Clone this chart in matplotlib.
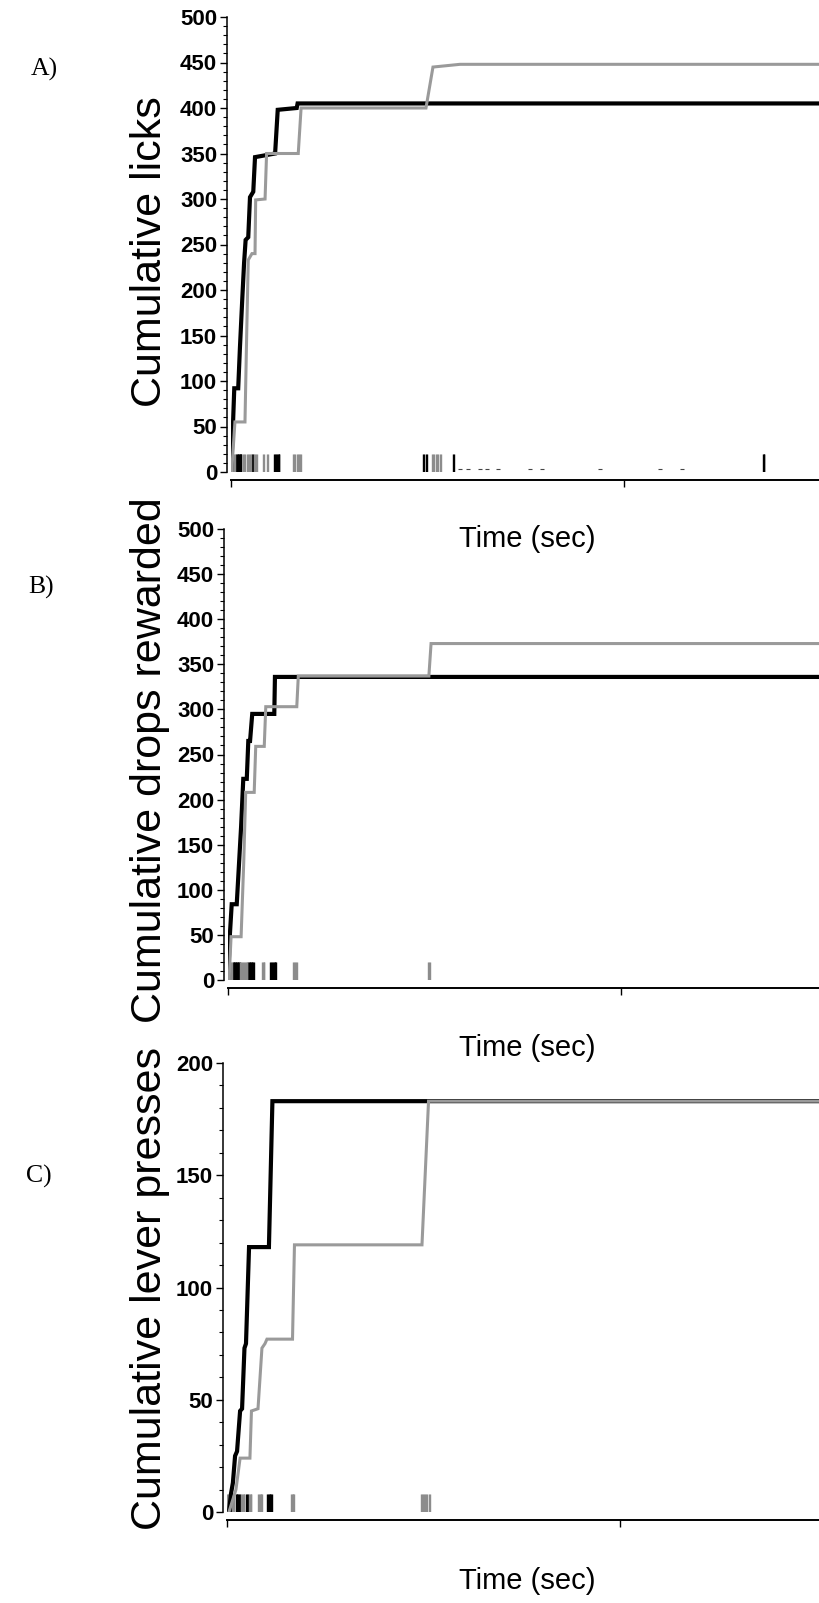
import matplotlib.pyplot as plt
import numpy as np

plt.rcParams['font.family'] = ['Liberation Sans', 'DejaVu Sans']

W, H = 820, 1603
SEC_PER_PX = 4.58

# ---------------- data (time in sec, cumulative counts) ----------------
# A) cumulative licks
licks_black_t = [0, 8, 15, 33, 41, 52, 60, 67, 79, 87, 102, 110, 202, 214, 301, 305, 2800]
licks_black_y = [0, 45, 92, 92, 137, 192, 230, 255, 258, 302, 308, 346, 350, 398, 400, 405, 405]
licks_gray_t = [3, 18, 64, 72, 79, 96, 110, 113, 156, 163, 308, 321, 893, 925, 1049, 2800]
licks_gray_y = [0, 55, 55, 153, 233, 240, 240, 299, 300, 350, 350, 400, 400, 445, 448, 448]
licks_black_ev = [24, 27, 30, 33, 36, 39, 42, 45, 48, 97, 100, 198, 202, 206, 210, 214,
                  218, 222, 881, 886, 891, 896, 1017, 1022, 2437, 2440, 2443]
licks_gray_ev = [2, 6, 10, 14, 18, 56, 61, 66, 71, 76, 81, 86, 91, 106, 111, 116, 121,
                 148, 151, 167, 170, 285, 290, 295, 300, 305, 310, 315, 320,
                 922, 927, 932, 937, 942, 950, 955, 960]
licks_stray = [1049, 1085, 1140, 1173, 1223, 1369, 1424, 1690, 1965, 2066]

# B) cumulative drops rewarded
drops_black_t = [0, 9, 17, 40, 60, 70, 86, 93, 101, 111, 212, 215, 2800]
drops_black_y = [0, 52, 84, 84, 170, 223, 223, 265, 265, 295, 295, 336, 336]
drops_gray_t = [5, 14, 60, 72, 81, 120, 127, 166, 173, 315, 322, 920, 930, 2800]
drops_gray_y = [0, 48, 48, 130, 208, 208, 259, 259, 303, 303, 337, 337, 373, 373]
drops_black_ev = [23, 26, 29, 32, 35, 38, 41, 44, 47, 50, 53, 93, 96, 99, 102, 105, 108,
                  111, 114, 117, 193, 197, 201, 205, 209, 213, 217, 221]
drops_gray_ev = [1, 5, 9, 13, 17, 57, 61, 65, 69, 73, 77, 81, 85, 89, 157, 160, 163, 167,
                 299, 303, 307, 311, 315, 918, 921, 924]

# C) cumulative lever presses
press_black_t = [9, 18, 27, 37, 46, 60, 69, 80, 87, 101, 192, 208, 2800]
press_black_y = [0, 8, 13, 25, 27, 45, 46, 73, 75, 118, 118, 183, 183]
press_gray_t = [9, 41, 60, 105, 112, 142, 160, 174, 183, 300, 309, 893, 923, 2800]
press_gray_y = [0, 10, 24, 24, 45, 46, 73, 75, 77, 77, 119, 119, 183, 183]
press_black_ev = [9, 13, 17, 40, 44, 48, 52, 56, 60, 86, 90, 94, 183, 187, 191, 195,
                  199, 203, 207]
press_gray_ev = [0, 4, 22, 26, 30, 34, 64, 68, 72, 76, 80, 100, 104, 108, 112, 142, 146,
                 150, 154, 158, 162, 292, 296, 300, 304, 308, 888, 893, 898, 903, 908,
                 913, 918, 923, 928]

panels = [
    dict(bt=licks_black_t, by=licks_black_y, gt=licks_gray_t, gy=licks_gray_y,
         bev=licks_black_ev, gev=licks_gray_ev, stray=licks_stray,
         ymax=500, major=50, evh=20, x0=231, top=17, zero=472,
         ylabel='Cumulative licks', lab_y=252, tag='A)', tag_xy=(44, 69), time_y=539),
    dict(bt=drops_black_t, by=drops_black_y, gt=drops_gray_t, gy=drops_gray_y,
         bev=drops_black_ev, gev=drops_gray_ev, stray=[],
         ymax=500, major=50, evh=20, x0=228, top=529, zero=980,
         ylabel='Cumulative drops rewarded', lab_y=760, tag='B)', tag_xy=(41, 587), time_y=1048),
    dict(bt=press_black_t, by=press_black_y, gt=press_gray_t, gy=press_gray_y,
         bev=press_black_ev, gev=press_gray_ev, stray=[],
         ymax=200, major=50, evh=8, x0=227, top=1063, zero=1512,
         ylabel='Cumulative lever presses', lab_y=1288, tag='C)', tag_xy=(39, 1176), time_y=1581),
]

fig = plt.figure(figsize=(W / 100, H / 100), dpi=100)

for p in panels:
    ax = fig.add_axes([p['x0'] / W, 1 - p['zero'] / H,
                       (W - p['x0']) / W, (p['zero'] - p['top']) / H])
    # raster of individual events along the bottom
    ax.vlines(p['bev'], 0, p['evh'], color='black', lw=1.0)
    ax.vlines(p['gev'], 0, p['evh'], color='#8c8c8c', lw=1.0)
    if p['stray']:
        ax.plot(p['stray'], [p['ymax'] * 0.006] * len(p['stray']), ls='none',
                marker='_', ms=2.5, mew=0.8, color='#444444')
    # cumulative records
    ax.plot(p['bt'], p['by'], color='black', lw=3.0, solid_joinstyle='miter', zorder=3)
    ax.plot(p['gt'], p['gy'], color='#9a9a9a', lw=2.2, solid_joinstyle='miter', zorder=4)

    ax.set_xlim(0, (W - p['x0']) * SEC_PER_PX)
    ax.set_ylim(0, p['ymax'])
    ax.set_yticks(np.arange(0, p['ymax'] + 1, p['major']))
    ax.set_yticks(np.arange(0, p['ymax'] + 1, 10), minor=True)
    ax.set_xticks([0, 1800])
    ax.set_xticklabels([])
    for s in ['top', 'right']:
        ax.spines[s].set_visible(False)
    ax.spines['left'].set_position(('outward', 3))
    ax.spines['bottom'].set_position(('outward', 6))
    ax.spines['left'].set_linewidth(1.1)
    ax.spines['bottom'].set_linewidth(1.4)
    ax.tick_params(axis='y', which='major', length=5, width=1, pad=2, labelsize=16)
    ax.tick_params(axis='y', which='minor', length=3, width=0.8)
    ax.tick_params(axis='x', which='major', length=5, width=1)
    for lab in ax.get_yticklabels():
        lab.set_fontweight('bold')

    fig.text(150 / W, 1 - p['lab_y'] / H, p['ylabel'], rotation=90, fontsize=31,
             ha='center', va='center')
    fig.text(527 / W, 1 - p['time_y'] / H, 'Time (sec)', fontsize=21,
             ha='center', va='center')
    fig.text(p['tag_xy'][0] / W, 1 - p['tag_xy'][1] / H, p['tag'],
             family=['Liberation Serif', 'DejaVu Serif'], fontsize=18.5,
             ha='center', va='center')

fig.savefig('out.png', dpi=100)
